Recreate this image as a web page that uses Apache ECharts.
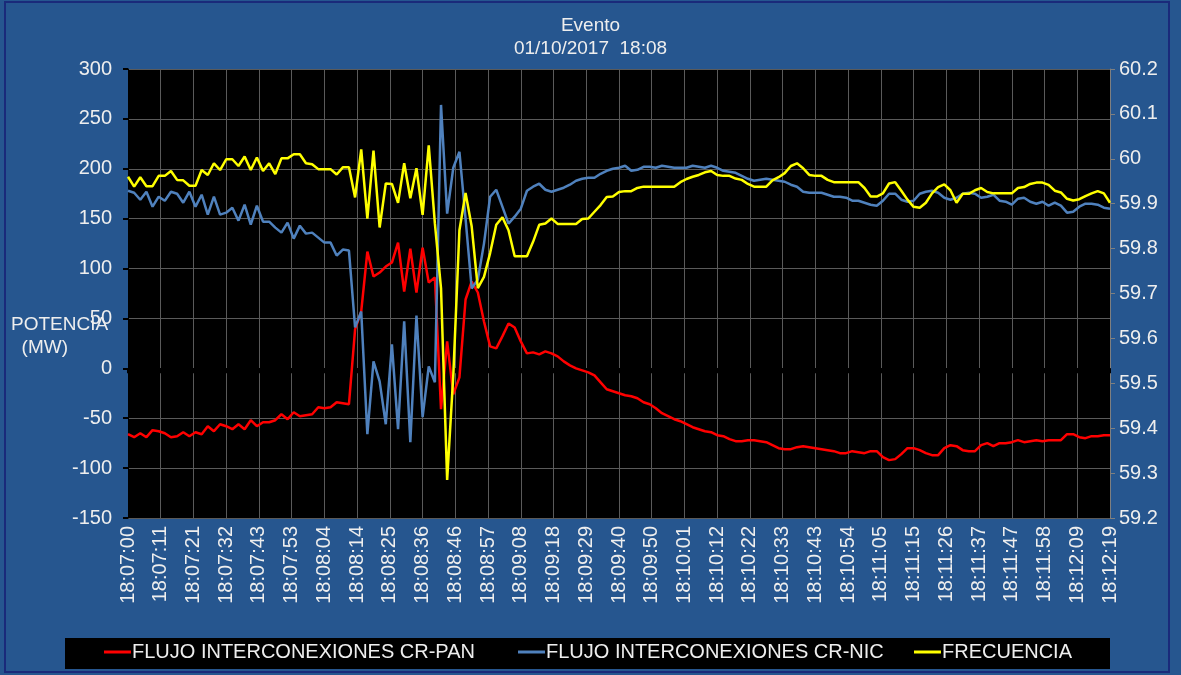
<!DOCTYPE html>
<html>
<head>
<meta charset="utf-8">
<script src="https://cdn.jsdelivr.net/npm/echarts@6/dist/echarts.min.js"></script>
<style>
html, body { margin: 0; padding: 0; background: #fff; }
#chart { width: 1181px; height: 675px; }
</style>
</head>
<body>
<div id="chart"></div>
<script>
// tick labels (31 major ticks, 2 s samples between them)
var tickLabels = ['18:07:00','18:07:11','18:07:21','18:07:32','18:07:43','18:07:53','18:08:04','18:08:14',
  '18:08:25','18:08:36','18:08:46','18:08:57','18:09:08','18:09:18','18:09:29','18:09:40','18:09:50',
  '18:10:01','18:10:12','18:10:22','18:10:33','18:10:43','18:10:54','18:11:05','18:11:15','18:11:26',
  '18:11:37','18:11:47','18:11:58','18:12:09','18:12:19'];

// FLUJO INTERCONEXIONES CR-PAN (MW)
var crPan = [-66,-69,-65,-69,-62,-63,-65,-69,-68,-64,-68,-64,-66,-58,-63,-56,-58,-61,-56,-61,
  -52,-58,-54,-54,-52,-46,-51,-44,-48,-47,-46,-39,-40,-39,-34,-35,-36,39,57,117,
  92,96,102,106,126,77,120,76,121,86,91,-41,27,-26,-9,69,87,76,47,22,
  20,32,45,41,27,15,16,14,17,15,12,7,3,0,-2,-4,-7,-14,-21,-23,
  -25,-27,-28,-30,-34,-36,-40,-45,-48,-51,-53,-56,-59,-61,-63,-64,-67,-68,-71,-73,
  -73,-72,-72,-73,-74,-77,-80,-81,-81,-79,-78,-79,-80,-81,-82,-83,-85,-85,-83,-84,
  -85,-83,-83,-89,-92,-91,-86,-80,-80,-82,-85,-87,-87,-80,-77,-78,-82,-83,-83,-77,
  -75,-78,-75,-75,-74,-72,-74,-73,-72,-73,-72,-72,-72,-66,-66,-69,-70,-68,-68,-67,
  -67];

// FLUJO INTERCONEXIONES CR-NIC (MW)
var crNic = [178,176,169,177,162,172,168,177,175,166,177,162,174,154,172,154,156,161,148,164,
  144,163,147,147,141,136,146,130,143,135,136,131,126,126,113,119,118,41,57,-66,
  7,-13,-56,24,-61,47,-74,53,-49,2,-14,264,155,201,217,150,80,89,125,172,
  179,162,145,152,160,178,182,185,179,177,179,181,184,188,190,191,191,195,198,200,
  201,203,198,199,202,202,201,203,202,201,201,201,203,202,201,203,201,198,197,196,
  193,190,188,189,190,189,188,187,184,182,177,176,176,176,174,172,172,171,168,168,
  166,164,163,168,175,175,169,167,168,175,177,178,176,171,169,171,175,176,175,171,
  172,174,168,167,164,170,171,167,165,167,163,166,163,156,157,162,165,165,164,161,
  160];

// FRECUENCIA (Hz)
var frecuencia = [59.960,59.938,59.959,59.939,59.939,59.962,59.962,59.973,59.953,59.952,
  59.940,59.940,59.975,59.964,59.990,59.975,59.999,59.999,59.984,60.005,
  59.975,60.003,59.973,59.990,59.966,60.001,60.001,60.010,60.010,59.990,
  59.988,59.977,59.977,59.977,59.965,59.981,59.981,59.914,60.021,59.867,
  60.018,59.847,59.945,59.944,59.902,59.990,59.912,59.979,59.875,60.030,
  59.856,59.712,59.285,59.518,59.841,59.924,59.849,59.712,59.737,59.790,
  59.853,59.870,59.841,59.783,59.783,59.783,59.815,59.853,59.856,59.867,
  59.855,59.855,59.855,59.855,59.866,59.867,59.882,59.897,59.915,59.916,
  59.926,59.928,59.928,59.935,59.938,59.938,59.938,59.938,59.938,59.938,
  59.948,59.955,59.960,59.964,59.970,59.973,59.964,59.962,59.962,59.956,
  59.953,59.944,59.938,59.938,59.938,59.952,59.959,59.968,59.984,59.990,
  59.979,59.964,59.962,59.962,59.953,59.948,59.948,59.948,59.948,59.948,
  59.935,59.916,59.916,59.923,59.945,59.948,59.929,59.909,59.893,59.891,
  59.902,59.923,59.937,59.943,59.930,59.902,59.922,59.922,59.930,59.935,
  59.926,59.923,59.923,59.923,59.923,59.935,59.937,59.944,59.947,59.947,
  59.942,59.929,59.925,59.911,59.907,59.910,59.917,59.923,59.928,59.923,
  59.902];

var nSteps = crPan.length - 1;
var step = nSteps / (tickLabels.length - 1);
function pairs(arr) { return arr.map(function (v, i) { return [i, v]; }); }

var txt = '#eeeeee';
var font = 'Liberation Sans, Arial, sans-serif';

var myChart = echarts.init(document.getElementById('chart'));
var option = {
  backgroundColor: '#26568f',
  animation: false,
  title: {
    text: 'Evento',
    subtext: '01/10/2017  18:08',
    left: 'center',
    top: 11,
    itemGap: 4,
    textStyle: { color: txt, fontSize: 19, fontWeight: 'normal', fontFamily: font },
    subtextStyle: { color: txt, fontSize: 19, fontFamily: font }
  },
  graphic: [
    { type: 'rect', shape: { x: 5, y: 2, width: 1164, height: 670 },
      style: { fill: 'none', stroke: '#1a2a7a', lineWidth: 2 }, silent: true },
    { type: 'rect', shape: { x: 65, y: 638, width: 1045, height: 31 },
      style: { fill: '#000' }, z: 0, silent: true },
    { type: 'text', left: 11, top: 313, z: 10,
      style: { text: 'POTENCIA\n  (MW)', fill: txt, fontSize: 19, fontFamily: font, lineHeight: 23 } }
  ],
  legend: [
    { data: ['FLUJO INTERCONEXIONES CR-PAN'], left: 104, top: 642 },
    { data: ['FLUJO INTERCONEXIONES CR-NIC'], left: 518, top: 642 },
    { data: ['FRECUENCIA'], left: 914, top: 642 }
  ].map(function (l) {
    l.itemWidth = 27; l.itemHeight = 3; l.itemGap = 0; l.padding = 0;
    l.icon = 'rect';
    l.textStyle = { color: txt, fontSize: 20, fontFamily: font, padding: [0, 0, 0, -4] };
    return l;
  }),
  grid: {
    left: 128, right: 71, top: 69, bottom: 157,
    show: true, backgroundColor: '#000', borderWidth: 0
  },
  xAxis: {
    type: 'value',
    min: 0, max: nSteps, interval: step,
    axisLine: { show: true, lineStyle: { color: '#000', width: 1 } },
    axisTick: { show: true, length: 5, lineStyle: { color: '#000', width: 2 } },
    splitLine: { show: true, lineStyle: { color: '#5a5a5a', width: 1 } },
    axisLabel: {
      rotate: 90, color: txt, fontSize: 20, fontFamily: font, margin: 8,
      formatter: function (v) { return tickLabels[Math.round(v / step)] || ''; }
    }
  },
  yAxis: [
    {
      type: 'value', min: -150, max: 300, interval: 50,
      axisLine: { show: true, lineStyle: { color: '#000', width: 1 } },
      axisTick: { show: true, length: 5, lineStyle: { color: '#000', width: 2 } },
      splitLine: { show: true, lineStyle: { color: '#5a5a5a', width: 1 } },
      axisLabel: { color: txt, fontSize: 20, fontFamily: font, margin: 16 }
    },
    {
      type: 'value', min: 59.2, max: 60.2, interval: 0.1, position: 'right',
      axisLine: { show: true, lineStyle: { color: '#7f7f7f', width: 1 } },
      axisTick: { show: true, length: 5, lineStyle: { color: '#7f7f7f' } },
      splitLine: { show: false },
      axisLabel: { color: txt, fontSize: 20, fontFamily: font, margin: 9,
        formatter: function (v) { return String(Math.round(v * 10) / 10); } }
    }
  ],
  series: [
    { name: 'FLUJO INTERCONEXIONES CR-PAN', type: 'line', data: pairs(crPan), yAxisIndex: 0,
      showSymbol: false, symbol: 'none', lineStyle: { color: '#ff0000', width: 2.5 }, itemStyle: { color: '#ff0000' }, z: 3 },
    { name: 'FLUJO INTERCONEXIONES CR-NIC', type: 'line', data: pairs(crNic), yAxisIndex: 0,
      showSymbol: false, symbol: 'none', lineStyle: { color: '#4f81bd', width: 2.5 }, itemStyle: { color: '#4f81bd' }, z: 4 },
    { name: 'FRECUENCIA', type: 'line', data: pairs(frecuencia), yAxisIndex: 1,
      showSymbol: false, symbol: 'none', lineStyle: { color: '#ffff00', width: 2.5 }, itemStyle: { color: '#ffff00' }, z: 5 }
  ]
};
myChart.setOption(option);
</script>
</body>
</html>
